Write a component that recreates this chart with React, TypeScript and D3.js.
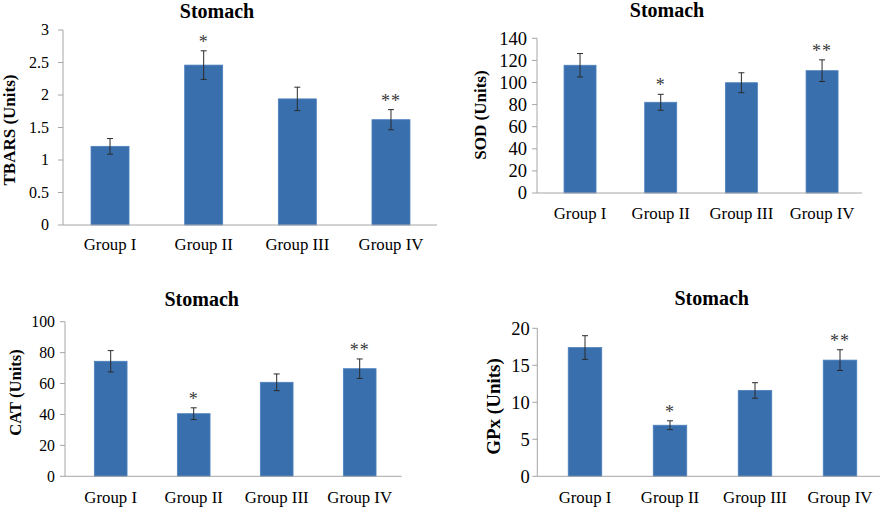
import React from "react";
import * as d3 from "d3";

// ---- data ----
const groups = ["Group I", "Group II", "Group III", "Group IV"];
const significance = ["", "*", "", "**"];

const tbarsValues = [1.21, 2.46, 1.94, 1.62];
const tbarsErrors = [0.12, 0.22, 0.18, 0.155];

const sodValues = [115.6, 82.1, 99.8, 110.7];
const sodErrors = [10.6, 7.2, 9.0, 9.8];

const catValues = [74.4, 40.5, 60.8, 69.6];
const catErrors = [6.9, 3.8, 5.4, 6.3];

const gpxValues = [17.4, 6.9, 11.6, 15.7];
const gpxErrors = [1.6, 0.6, 1.05, 1.4];

const titles = ["Stomach", "Stomach", "Stomach", "Stomach"];
const yLabels = ["TBARS (Units)", "SOD (Units)", "CAT (Units)", "GPx (Units)"];
const yMax = [3, 140, 100, 20];
const yStep = [0.5, 20, 20, 5];

// ---- layout (positions/styles only) ----
type Layout = {
  axisX: number; axisEnd: number; yTop: number; y0: number;
  band: [number, number]; barW: number;
  titleX: number; titleY: number;
  yLabX: number; yLabY: number; yLabSize: number;
  xLabY: number; tickSize: number; tickGap: number;
};

const layouts: Layout[] = [
  { axisX: 63, axisEnd: 437, yTop: 30, y0: 225, band: [63.2, 437.8], barW: 38,
    titleX: 217, titleY: 17.5, yLabX: 15, yLabY: 130, yLabSize: 17, xLabY: 250, tickSize: 16, tickGap: 14 },
  { axisX: 537, axisEnd: 862, yTop: 38.3, y0: 193, band: [539.7, 862.4], barW: 32,
    titleX: 667, titleY: 17, yLabX: 486, yLabY: 115, yLabSize: 17, xLabY: 219, tickSize: 18.5, tickGap: 10 },
  { axisX: 65, axisEnd: 401.7, yTop: 321.7, y0: 476.3, band: [69.2, 401.2], barW: 32.7,
    titleX: 201.7, titleY: 305.5, yLabX: 21, yLabY: 392.5, yLabSize: 16.6, xLabY: 503, tickSize: 15.8, tickGap: 10 },
  { axisX: 537.3, axisEnd: 880, yTop: 328.3, y0: 476.3, band: [542.5, 882.5], barW: 33.5,
    titleX: 711.7, titleY: 305, yLabX: 500, yLabY: 406.5, yLabSize: 19, xLabY: 502.5, tickSize: 18.5, tickGap: 7.5 },
];

const panelValues = [tbarsValues, sodValues, catValues, gpxValues];
const panelErrors = [tbarsErrors, sodErrors, catErrors, gpxErrors];

const FONT = "'Liberation Serif', 'Times New Roman', serif";
const BAR = "#3A6FAD";
const AXIS = "#A6A6A6";
const ERR = "#2b2b2b";

function Panel({ idx }: { idx: number }) {
  const L = layouts[idx];
  const values = panelValues[idx];
  const errors = panelErrors[idx];
  const y = d3.scaleLinear().domain([0, yMax[idx]]).range([L.y0, L.yTop]);
  const x = d3.scaleBand<string>().domain(groups).range(L.band).padding(0);
  const ticks = d3.range(0, yMax[idx] + yStep[idx] / 2, yStep[idx]).map((t) => +t.toFixed(4));
  const capW = 6;
  return (
    <g>
      <text x={L.titleX} y={L.titleY} textAnchor="middle" fontFamily={FONT}
        fontWeight="bold" fontSize={20} fill="#000">{titles[idx]}</text>
      <text transform={`translate(${L.yLabX},${L.yLabY}) rotate(-90)`} textAnchor="middle"
        fontFamily={FONT} fontWeight="bold" fontSize={L.yLabSize} fill="#000">{yLabels[idx]}</text>
      {/* y axis */}
      <line x1={L.axisX} x2={L.axisX} y1={y(yMax[idx])} y2={L.y0} stroke={AXIS} strokeWidth={1} />
      {ticks.map((t) => (
        <g key={t}>
          <line x1={L.axisX - 5} x2={L.axisX} y1={y(t)} y2={y(t)} stroke={AXIS} strokeWidth={1} />
          <text x={L.axisX - L.tickGap} y={y(t)} dy="0.34em" textAnchor="end"
            fontFamily={FONT} fontSize={L.tickSize} fill="#000">{String(t)}</text>
        </g>
      ))}
      {/* bars */}
      {groups.map((g, i) => {
        const cx = (x(g) as number) + x.bandwidth() / 2;
        const top = y(values[i]);
        const eTop = y(values[i] + errors[i]);
        const eBot = y(values[i] - errors[i]);
        return (
          <g key={g}>
            <rect x={cx - L.barW / 2} y={top} width={L.barW} height={L.y0 - top}
              fill={BAR} stroke="#4C80BE" strokeWidth={0.8} />
            <line x1={cx} x2={cx} y1={eTop} y2={eBot} stroke={ERR} strokeWidth={1} />
            <line x1={cx - capW / 2} x2={cx + capW / 2} y1={eTop} y2={eTop} stroke={ERR} strokeWidth={1} />
            <line x1={cx - capW / 2} x2={cx + capW / 2} y1={eBot} y2={eBot} stroke={ERR} strokeWidth={1} />
            {significance[i] && (
              <text x={cx} y={eTop - 3} textAnchor="middle" fontFamily={FONT}
                fontSize={18} fill="#3a3a3a" letterSpacing={1}>{significance[i]}</text>
            )}
            <text x={cx} y={L.xLabY} textAnchor="middle" fontFamily={FONT}
              fontSize={16.8} fill="#000">{g}</text>
          </g>
        );
      })}
      {/* x axis */}
      <line x1={L.axisX} x2={L.axisEnd} y1={L.y0} y2={L.y0} stroke={AXIS} strokeWidth={1} />
    </g>
  );
}

export default function App() {
  return (
    <svg width={883} height={507} style={{ position: "absolute", left: 0, top: 0, background: "#fff" }}>
      <rect width={883} height={507} fill="#fff" />
      {layouts.map((_, i) => (
        <Panel key={i} idx={i} />
      ))}
    </svg>
  );
}
